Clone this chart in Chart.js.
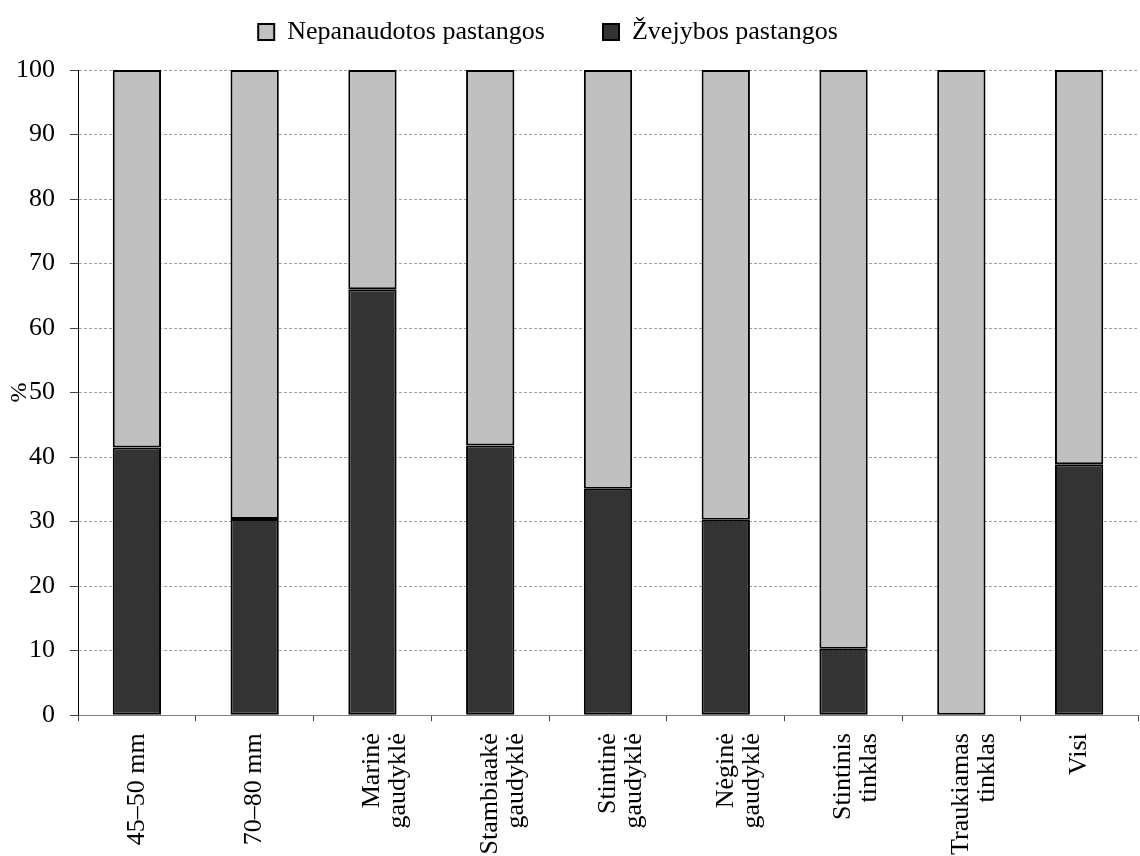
<!DOCTYPE html>
<html>
<head>
<meta charset="utf-8">
<script src="https://cdn.jsdelivr.net/npm/chart.js@4"></script>
<style>
  html, body { margin: 0; padding: 0; background: #fff; }
  #wrap { width: 1140px; height: 856px; }
</style>
</head>
<body>
<div id="wrap"><canvas id="effortChart"></canvas></div>
<script>
  // Chart data
  const categories = [
    ['45–50 mm'], ['70–80 mm'], ['Marinė', 'gaudyklė'], ['Stambiaakė', 'gaudyklė'],
    ['Stintinė', 'gaudyklė'], ['Nėginė', 'gaudyklė'], ['Stintinis', 'tinklas'],
    ['Traukiamas', 'tinklas'], ['Visi']
  ];
  const fishingEffort = [41.5, 30.4, 66, 41.8, 35.1, 30.3, 10.3, 0, 38.9];
  const unusedEffort = [58.5, 69.6, 34, 58.2, 64.9, 69.7, 89.7, 100, 61.1];
  const yTicks = [0, 10, 20, 30, 40, 50, 60, 70, 80, 90, 100];

  const serif = "'Liberation Serif', 'Times New Roman', serif";
  Chart.defaults.font.family = serif;
  Chart.defaults.color = '#000';

  // nudge the legend a bit left of centre, like the original
  const legendShift = {
    id: 'legendShift',
    afterLayout(chart) {
      if (chart.legend) chart.legend.right -= 42;
    }
  };

  const ctx = document.getElementById('effortChart').getContext('2d');
  new Chart(ctx, {
    type: 'bar',
    data: {
      labels: categories,
      datasets: [{
        label: 'Žvejybos pastangos',
        data: fishingEffort,
        backgroundColor: '#333333',
        borderColor: '#000',
        borderWidth: 2,
        borderSkipped: false
      }, {
        label: 'Nepanaudotos pastangos',
        data: unusedEffort,
        backgroundColor: '#c0c0c0',
        borderColor: '#000',
        borderWidth: 2,
        borderSkipped: false
      }]
    },
    plugins: [legendShift],
    options: {
      responsive: true,
      maintainAspectRatio: false,
      animation: false,
      datasets: { bar: { barPercentage: 0.41, categoryPercentage: 1 } },
      layout: { padding: { top: -39, right: 2, left: 0, bottom: -11 } },
      plugins: {
        tooltip: { enabled: false },
        legend: {
          position: 'top',
          reverse: true,
          labels: {
            boxWidth: 16,
            boxHeight: 16,
            padding: 58,
            color: '#000',
            font: { size: 26 }
          }
        },
        // spacer between legend and plot
        title: {
          display: true,
          text: '',
          weight: 500,
          font: { size: 1, lineHeight: 1 },
          padding: { top: 0, bottom: 14 }
        }
      },
      scales: {
        x: {
          stacked: true,
          grid: { offset: true, drawOnChartArea: false, drawTicks: true, tickLength: 6, tickColor: '#444' },
          border: { color: '#808080', width: 1 },
          ticks: {
            autoSkip: false,
            maxRotation: 90,
            minRotation: 90,
            padding: 12,
            color: '#000',
            font: { size: 26, lineHeight: 1 }
          }
        },
        y: {
          stacked: true,
          min: 0,
          max: 100,
          afterBuildTicks: function (scale) {
            scale.ticks = yTicks.map(v => ({ value: v }));
          },
          grid: { color: '#a0a0a0', tickColor: '#444', tickLength: 8 },
          border: { color: '#000', width: 1, dash: [3, 2] },
          ticks: { padding: 15, color: '#000', font: { size: 26 } },
          title: {
            display: true, text: '%', color: '#000',
            font: { size: 24, lineHeight: 1 },
            padding: { top: 8, bottom: -31 }
          }
        }
      }
    }
  });
</script>
</body>
</html>
